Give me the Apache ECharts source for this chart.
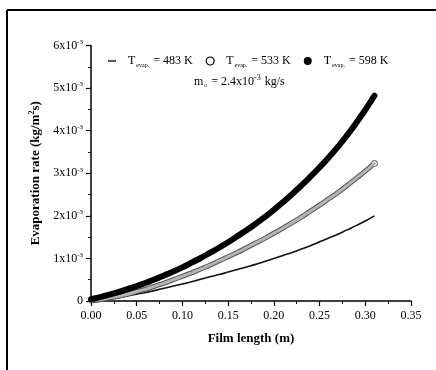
<!DOCTYPE html>
<html>
<head>
<meta charset="utf-8">
<script src="https://cdn.jsdelivr.net/npm/echarts@6/dist/echarts.min.js"></script>
<style>
  html, body { margin: 0; padding: 0; background: #fff; }
  #chart { width: 436px; height: 370px; }
</style>
</head>
<body>
<div id="chart"></div>
<script>
// Film length positions (m)
const filmLength = [0.00, 0.01, 0.02, 0.03, 0.04, 0.05, 0.06, 0.07, 0.08, 0.09,
                    0.10, 0.11, 0.12, 0.13, 0.14, 0.15, 0.16, 0.17, 0.18, 0.19,
                    0.20, 0.21, 0.22, 0.23, 0.24, 0.25, 0.26, 0.27, 0.28, 0.29,
                    0.30, 0.31];

// Evaporation rate in units of 1x10^-3 kg/(m^2 s)
const evap483 = [0.00, 0.02, 0.05, 0.08, 0.12, 0.16, 0.20, 0.25, 0.30, 0.35,
                 0.40, 0.45, 0.51, 0.57, 0.62, 0.68, 0.74, 0.80, 0.86, 0.93,
                 1.00, 1.07, 1.14, 1.22, 1.30, 1.39, 1.48, 1.57, 1.67, 1.77,
                 1.88, 2.00];
const evap533 = [0.00, 0.03, 0.07, 0.11, 0.16, 0.22, 0.28, 0.35, 0.42, 0.50,
                 0.58, 0.66, 0.75, 0.84, 0.94, 1.04, 1.14, 1.25, 1.36, 1.47,
                 1.59, 1.71, 1.84, 1.97, 2.11, 2.25, 2.40, 2.55, 2.71, 2.88,
                 3.05, 3.23];
const evap598 = [0.04, 0.09, 0.15, 0.21, 0.28, 0.35, 0.43, 0.51, 0.60, 0.69,
                 0.79, 0.90, 1.01, 1.13, 1.25, 1.38, 1.52, 1.66, 1.81, 1.97,
                 2.14, 2.32, 2.51, 2.71, 2.92, 3.14, 3.37, 3.62, 3.89, 4.18,
                 4.49, 4.82];

const xTicks = [0.00, 0.05, 0.10, 0.15, 0.20, 0.25, 0.30, 0.35];

const FONT = 'Liberation Serif';
const pairs = ys => filmLength.map((x, i) => [x, ys[i]]);
const last = arr => arr[arr.length - 1];

const tempLabel = t => '{t|T}{sub|evap.}{t| = ' + t + '}';

const plain = (size, extra) => Object.assign(
  { fontFamily: FONT, fontSize: size, fontWeight: 'normal', color: '#000' }, extra || {});

const chart = echarts.init(document.getElementById('chart'), null, { renderer: 'canvas' });

chart.setOption({
  backgroundColor: '#fff',
  animation: false,
  textStyle: { fontFamily: FONT, color: '#000' },
  grid: { left: 91, right: 25, top: 45.5, bottom: 69, containLabel: false },
  title: {
    left: 189, top: 69,
    text: '{t|m}{sub|o}{t| = 2.4x10}{sup|-3}{t| kg/s}',
    textStyle: {
      fontWeight: 'normal',
      rich: {
        t: plain(12),
        sub: plain(6, { padding: [8, 1, 0, 1] }),
        sup: plain(8, { padding: [0, 1, 7, 0] })
      }
    }
  },
  legend: {
    left: 103, top: 50,
    itemWidth: 8, itemHeight: 8, itemGap: 13,
    symbolKeepAspect: true,
    selectedMode: false,
    formatter: name => tempLabel(name),
    textStyle: {
      padding: [0, 0, 0, 7],
      rich: {
        t: plain(12),
        sub: plain(6, { padding: [8, 1, 0, 1] })
      }
    },
    data: [
      { name: '483 K', icon: 'path://M0,0H6V1H0Z', itemStyle: { color: '#000' } },
      { name: '533 K', icon: 'circle', itemStyle: { color: '#fff', borderColor: '#000', borderWidth: 1.2 } },
      { name: '598 K', icon: 'circle', itemStyle: { color: '#000' } }
    ]
  },
  xAxis: {
    type: 'value', min: 0, max: 0.35, interval: 0.05,
    name: 'Film length (m)', nameLocation: 'middle', nameGap: 31,
    nameTextStyle: { fontFamily: FONT, fontSize: 13, fontWeight: 'bold', color: '#000' },
    axisLine: { show: true, lineStyle: { color: '#000', width: 1.5 } },
    axisTick: { show: true, inside: false, length: 5, lineStyle: { color: '#000', width: 1.2 } },
    minorTick: { show: true, splitNumber: 2, length: 3, lineStyle: { color: '#000', width: 1 } },
    splitLine: { show: false },
    axisLabel: {
      margin: 9, fontFamily: FONT, fontSize: 12, color: '#000',
      customValues: xTicks,
      formatter: v => v.toFixed(2)
    }
  },
  yAxis: {
    type: 'value', min: 0, max: 6, interval: 1,
    name: '{b|Evaporation rate (kg/m}{bs|2}{b|s)}', nameLocation: 'middle', nameGap: 40,
    nameTextStyle: {
      rich: {
        b: { fontFamily: FONT, fontSize: 13, fontWeight: 'bold', color: '#000' },
        bs: { fontFamily: FONT, fontSize: 8, fontWeight: 'bold', color: '#000', padding: [0, 0, 7, 0] }
      }
    },
    axisLine: { show: true, lineStyle: { color: '#000', width: 1.5 } },
    axisTick: { show: true, inside: false, length: 5, lineStyle: { color: '#000', width: 1.2 } },
    minorTick: { show: true, splitNumber: 2, length: 3, lineStyle: { color: '#000', width: 1 } },
    splitLine: { show: false },
    axisLabel: {
      margin: 8, color: '#000',
      formatter: v => v === 0 ? '{t|0}' : '{t|' + v + 'x10}{sup|-3}',
      rich: {
        t: plain(12),
        sup: plain(7, { padding: [0, 0, 7, 0] })
      }
    }
  },
  series: [
    {
      name: '483 K', type: 'line', data: pairs(evap483),
      showSymbol: false, smooth: true, z: 3,
      itemStyle: { color: '#000' },
      lineStyle: { color: '#111', width: 1.6 }
    },
    {
      name: '533 K rim', type: 'line', data: pairs(evap533),
      showSymbol: false, smooth: true, z: 4,
      lineStyle: { color: '#555', width: 5, cap: 'round' }
    },
    {
      name: '533 K', type: 'line', data: pairs(evap533),
      showSymbol: false, smooth: true, z: 5,
      itemStyle: { color: '#fff', borderColor: '#000' },
      lineStyle: { color: '#b4b4b4', width: 3, cap: 'round' },
      markPoint: {
        symbol: 'circle', symbolSize: 6, silent: true,
        itemStyle: { color: '#fff', borderColor: '#555', borderWidth: 1 },
        label: { show: false },
        data: [{ coord: [last(filmLength), last(evap533)] }]
      }
    },
    {
      name: '598 K', type: 'line', data: pairs(evap598),
      showSymbol: false, smooth: true, z: 6,
      itemStyle: { color: '#000' },
      lineStyle: { color: '#000', width: 6, cap: 'round' }
    }
  ],
  graphic: [
    { type: 'line', silent: true, shape: { x1: 7, y1: 10, x2: 436, y2: 10 }, style: { stroke: '#000', lineWidth: 2 } },
    { type: 'line', silent: true, shape: { x1: 7, y1: 10, x2: 7, y2: 370 }, style: { stroke: '#000', lineWidth: 2 } }
  ]
});
</script>
</body>
</html>
